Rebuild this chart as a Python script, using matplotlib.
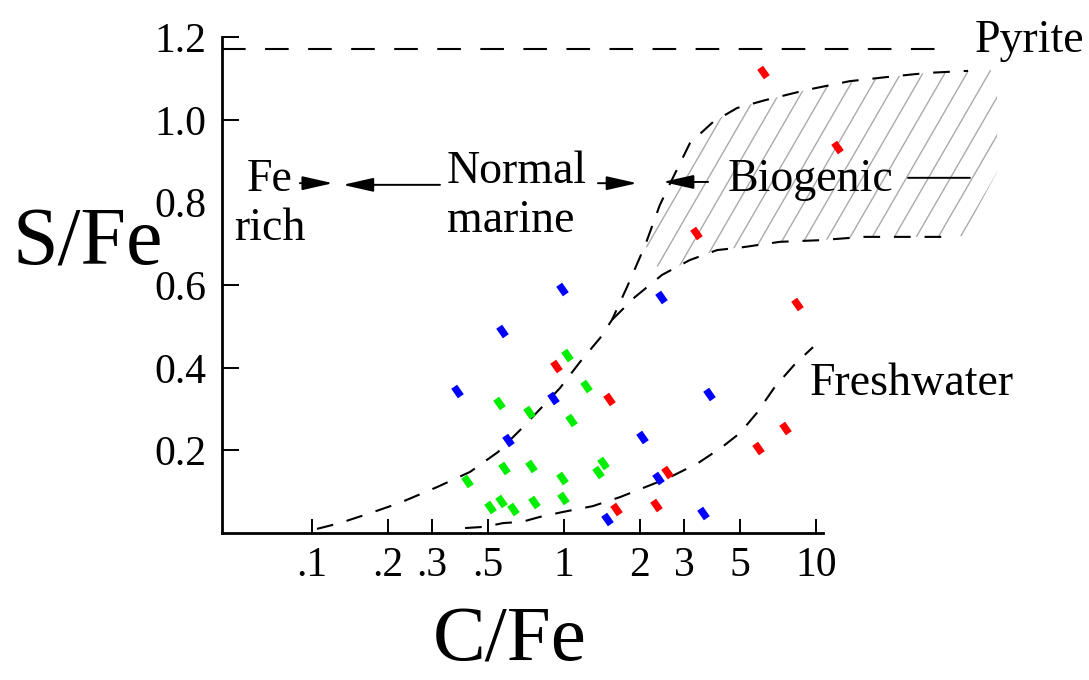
import numpy as np
import matplotlib
matplotlib.use("Agg")
import matplotlib.pyplot as plt
from matplotlib.markers import MarkerStyle
from matplotlib.patches import Polygon
from matplotlib.ticker import NullLocator
from matplotlib.transforms import Affine2D

plt.rcParams['font.family'] = ['Liberation Serif', 'DejaVu Serif']
plt.rcParams['lines.scale_dashes'] = False

# samples (C/Fe, S/Fe)
red_cfe = [0.93, 1.51, 8.41, 7.53, 5.89, 2.56, 1.61, 2.32, 3.34, 6.16, 12.1]
red_sfe = [0.404, 0.324, 0.554, 0.254, 0.206, 0.148, 0.058, 0.068, 0.726, 1.116, 0.935]
blue_cfe = [0.98, 0.568, 2.43, 0.376, 3.76, 0.904, 0.60, 2.04, 2.36, 1.48, 3.56]
blue_sfe = [0.591, 0.489, 0.571, 0.344, 0.337, 0.327, 0.225, 0.232, 0.133, 0.034, 0.048]
green_cfe = [1.03, 1.22, 0.552, 0.727, 1.07, 0.578, 0.740, 0.412,
             1.43, 1.36, 0.98, 0.508, 0.562, 0.628, 0.76, 0.99]
green_sfe = [0.431, 0.356, 0.315, 0.293, 0.274, 0.157, 0.162, 0.126,
             0.169, 0.148, 0.133, 0.063, 0.077, 0.058, 0.075, 0.085]

# boundary curves
marine_cfe = [0.1047, 0.129, 0.170, 0.223, 0.313, 0.424, 0.547, 0.669, 0.818,
              0.964, 1.157, 1.39, 1.55, 1.78, 2.10, 2.40, 2.68, 3.16, 3.90,
              4.86, 6.28, 9.21, 13.6, 19.1, 27.6, 40.1]
marine_sfe = [0.010, 0.024, 0.048, 0.073, 0.111, 0.148, 0.196, 0.249, 0.305,
              0.351, 0.414, 0.472, 0.516, 0.596, 0.697, 0.794, 0.855, 0.944, 0.995,
              1.029, 1.048, 1.073, 1.094, 1.104, 1.114, 1.119]
bio_low_cfe = [1.55, 1.91, 2.45, 3.16, 4.05, 5.13, 7.19, 10.4, 15.4, 34.0]
bio_low_sfe = [0.516, 0.571, 0.625, 0.661, 0.685, 0.692, 0.705, 0.709, 0.717, 0.717]
fresh_cfe = [0.405, 0.486, 0.573, 0.681, 0.803, 0.991, 1.30, 1.67, 2.06, 2.59,
             3.40, 4.24, 4.99, 5.83, 6.87, 8.25, 9.73]
fresh_sfe = [0.012, 0.015, 0.024, 0.027, 0.039, 0.051, 0.065, 0.087, 0.109, 0.133,
             0.169, 0.208, 0.242, 0.291, 0.354, 0.409, 0.450]
pyrite_sfe = 1.172
pyrite_end = 33.0

# right edge of the hatched biogenic field
hatch_right_cfe = [52.3, 52.3, 38.3]
hatch_right_sfe = [1.121, 0.874, 0.719]

xticks = [0.1, 0.2, 0.3, 0.5, 1, 2, 3, 5, 10]
xtick_labels = ['.1', '.2', '.3', '.5', '1', '2', '3', '5', '10']
yticks = [0.2, 0.4, 0.6, 0.8, 1.0, 1.2]
ytick_labels = ['0.2', '0.4', '0.6', '0.8', '1.0', '1.2']

fig = plt.figure(figsize=(10.89, 6.8), dpi=100)
pos = [222 / 1089, 147 / 680, 788 / 1089, 495.6 / 680]
ax = fig.add_axes(pos)
ax.set_xscale('log')
xmin, xmax = 10 ** (-342 / 252), 10 ** (446 / 252)
ax.set_xlim(xmin, xmax)
ax.set_ylim(0, 1.2)

for s in ['top', 'right']:
    ax.spines[s].set_visible(False)
ax.spines['left'].set_linewidth(2)
ax.spines['bottom'].set_linewidth(2)
ax.spines['bottom'].set_bounds(xmin, 10.7)
ax.spines['left'].set_bounds(0, 1.2)

ax.set_xticks(xticks)
ax.set_xticklabels(xtick_labels)
ax.xaxis.set_minor_locator(NullLocator())
ax.set_yticks(yticks)
ax.set_yticklabels(ytick_labels)
ax.tick_params(axis='x', direction='in', length=10, width=1.4, pad=10, labelsize=30)
ax.tick_params(axis='y', direction='in', length=12, width=1.4, pad=11, labelsize=30)
ax.yaxis.get_major_ticks()[3].tick1line.set_visible(False)

# hatched biogenic field
up = [(c, s) for c, s in zip(marine_cfe, marine_sfe) if c >= 2.1]
low = [(c, s) for c, s in zip(bio_low_cfe, bio_low_sfe) if c >= 2.45][::-1]
verts = up + list(zip(hatch_right_cfe, hatch_right_sfe)) + low
poly = Polygon(verts, closed=True, transform=ax.transData,
               facecolor='none', edgecolor='none')
ax.add_patch(poly)
W, H = 788.0, 495.6
step = 22 / W
dx = np.cos(np.radians(60)) * 700 / W
dy = np.sin(np.radians(60)) * 700 / H
for x0 in np.arange(0.05, 1.0, step):
    ln, = ax.plot([x0, x0 + dx], [0, dy], transform=ax.transAxes,
                  color='#aaaaaa', lw=1.0, zorder=1)
    ln.set_clip_path(poly)

# boundary lines
dash = dict(color='black', lw=1.5, dashes=(12, 10), zorder=2)
ax.plot(marine_cfe, marine_sfe, **dash)
ax.plot(bio_low_cfe, bio_low_sfe, **dash)
ax.plot(fresh_cfe, fresh_sfe, **dash)
ax.plot([xmin, pyrite_end], [pyrite_sfe, pyrite_sfe], color='black', lw=1.5,
        dashes=(17, 14), zorder=2)

# samples
mk = MarkerStyle('s', transform=Affine2D().scale(1.0, 0.62).rotate_deg(-55))
ax.scatter(red_cfe, red_sfe, marker=mk, s=70, color='#ff0000', linewidths=0, zorder=3)
ax.scatter(blue_cfe, blue_sfe, marker=mk, s=70, color='#0000ff', linewidths=0, zorder=3)
ax.scatter(green_cfe, green_sfe, marker=mk, s=70, color='#00ee00', linewidths=0, zorder=3)

# labels and arrows
fs = 33
ax.text(0.0681, 0.709, 'Fe\nrich', ha='center', va='baseline', fontsize=fs, multialignment='center')
ax.text(0.3435, 0.729, 'Normal\nmarine', ha='left', va='baseline', fontsize=fs, multialignment='left')
ax.text(4.47, 0.828, 'Biogenic', ha='left', va='baseline', fontsize=fs)
ax.text(9.47, 0.334, 'Freshwater', ha='left', va='baseline', fontsize=fs)
ax.text(42.8, 1.165, 'Pyrite', ha='left', va='baseline', fontsize=fs)

arrow = dict(arrowstyle='-|>,head_length=0.75,head_width=0.17', color='black',
             lw=1.4, shrinkA=0, shrinkB=0, mutation_scale=25)
ax.annotate('', xy=(0.121, 0.847), xytext=(0.0895, 0.847), arrowprops=arrow)
ax.annotate('', xy=(0.1325, 0.843), xytext=(0.322, 0.843), arrowprops=arrow)
ax.annotate('', xy=(1.95, 0.847), xytext=(1.364, 0.847), arrowprops=arrow)
ax.annotate('', xy=(2.47, 0.850), xytext=(3.73, 0.850), arrowprops=arrow)
ax.annotate('', xy=(40.8, 0.860), xytext=(23.2, 0.860),
            arrowprops=dict(arrowstyle='-', color='black', lw=1.4, shrinkA=0, shrinkB=0))

fig.text(12 / 1089, 415 / 680, 'S/Fe', ha='left', va='baseline', fontsize=59)
fig.text(510 / 1089, 19 / 680, 'C/Fe', ha='center', va='baseline', fontsize=57)

fig.savefig('out.png', dpi=100)
